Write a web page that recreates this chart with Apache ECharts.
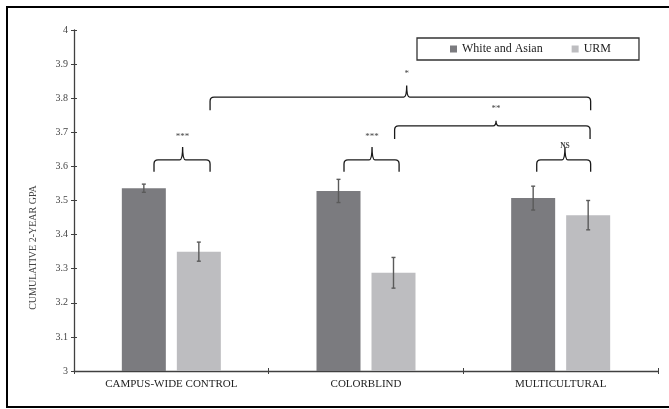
<!DOCTYPE html>
<html>
<head>
<meta charset="utf-8">
<script src="https://cdn.jsdelivr.net/npm/echarts@6/dist/echarts.min.js"></script>
<style>html,body{margin:0;padding:0;background:#fff}#c{width:669px;height:409px}</style>
</head>
<body>
<div id="c"></div>
<script>
// ---- data ----
var categories = ['CAMPUS-WIDE CONTROL', 'COLORBLIND', 'MULTICULTURAL'];
var seriesNames = ['White and Asian', 'URM'];
var whiteAsian = [3.536, 3.528, 3.507];
var whiteAsianErr = [0.012, 0.034, 0.035];
var urm = [3.350, 3.288, 3.457];
var urmErr = [0.028, 0.045, 0.043];
var yTicks = { min: 3, max: 4, interval: 0.1 };
var yTitle = 'CUMULATIVE 2-YEAR GPA';
// significance brackets, in category-index units (x) and GPA units (y)
var bracketLeft  = [-0.089, 0.887, 1.877, 1.147, 0.199];
var bracketRight = [ 0.199, 1.170, 2.154, 2.151, 2.154];
var bracketMid   = [ 0.058, 1.031, 2.022, 1.668, 1.209];
var bracketLeg   = [3.584, 3.584, 3.584, 3.680, 3.765];
var bracketBar   = [3.619, 3.619, 3.619, 3.719, 3.803];
var bracketPeak  = [3.657, 3.657, 3.657, 3.734, 3.837];
var bracketText  = ['***', '***', 'NS', '**', '*'];
var bracketTextY = [3.686, 3.686, 3.660, 3.768, 3.871];

var FONT = '"Liberation Serif", "Times New Roman", serif';
var DARK = '#7b7b7f', LIGHT = '#bdbdc0';
var BAR_W = 44, BAR_GAP = 11;

var chart = echarts.init(document.getElementById('c'));

function errItem(offset) {
  return function (params, api) {
    var i = api.value(0), v = api.value(1), e = api.value(2);
    var top = api.coord([i, v + e]);
    var bot = api.coord([i, v - e]);
    var x = top[0] + offset;
    var style = { stroke: '#5a5a5a', lineWidth: 1.4 };
    return {
      type: 'group',
      children: [
        { type: 'line', shape: { x1: x, y1: top[1], x2: x, y2: bot[1] }, style: style },
        { type: 'line', shape: { x1: x - 2, y1: top[1], x2: x + 2, y2: top[1] }, style: style },
        { type: 'line', shape: { x1: x - 2, y1: bot[1], x2: x + 2, y2: bot[1] }, style: style }
      ]
    };
  };
}

var bracketData = bracketLeft.map(function (l, k) {
  return [l, bracketRight[k], bracketMid[k], bracketLeg[k], bracketBar[k], bracketPeak[k], bracketTextY[k], k];
});

function bracketItem(params, api) {
  var L = api.coord([api.value(0), api.value(3)]);
  var R = api.coord([api.value(1), api.value(3)]);
  var H = api.coord([api.value(2), api.value(4)]);
  var P = api.coord([api.value(2), api.value(5)]);
  var T = api.coord([api.value(2), api.value(6)]);
  var k = api.value(7);
  var r = 4, r2 = 3;
  var h = H[1], m = H[0];
  var d = 'M' + L[0] + ',' + L[1] +
    ' L' + L[0] + ',' + (h + r) +
    ' Q' + L[0] + ',' + h + ' ' + (L[0] + r) + ',' + h +
    ' L' + (m - r2) + ',' + h +
    ' Q' + m + ',' + h + ' ' + m + ',' + P[1] +
    ' Q' + m + ',' + h + ' ' + (m + r2) + ',' + h +
    ' L' + (R[0] - r) + ',' + h +
    ' Q' + R[0] + ',' + h + ' ' + R[0] + ',' + (h + r) +
    ' L' + R[0] + ',' + R[1];
  var txt = bracketText[k];
  var isNS = txt === 'NS';
  return {
    type: 'group',
    children: [
      { type: 'path', shape: { pathData: d }, style: { stroke: '#1a1a1a', lineWidth: 1.3, fill: null } },
      { type: 'text', x: T[0], y: T[1], style: {
          text: txt, fill: '#444', align: 'center', verticalAlign: 'middle',
          fontFamily: FONT, fontSize: isNS ? 7.5 : 9, fontWeight: isNS ? 'bold' : 'normal' } }
    ]
  };
}

var option = {
  animation: false,
  backgroundColor: '#fff',
  textStyle: { fontFamily: FONT },
  grid: { left: 74, right: 11, top: 30, bottom: 38, containLabel: false },
  legend: {
    data: seriesNames,
    left: 417, top: 38,
    icon: 'rect', itemWidth: 7, itemHeight: 7, itemGap: 29,
    padding: [5, 28, 5, 33],
    borderColor: '#333', borderWidth: 1.3,
    textStyle: { fontFamily: FONT, fontSize: 12, color: '#222' }
  },
  xAxis: [
    {
      type: 'category', data: categories,
      axisLine: { onZero: false, lineStyle: { color: '#404040', width: 1.3 } },
      axisTick: { show: true, length: 3, interval: 0, lineStyle: { color: '#404040' } },
      axisLabel: { color: '#222', fontSize: 11, fontFamily: FONT, margin: 8, interval: 0 },
      splitLine: { show: false }
    },
    {
      type: 'value', min: -0.5, max: 2.5, show: false,
      axisLine: { onZero: false }
    },
    {
      type: 'category', data: categories, position: 'bottom',
      axisLine: { show: false, onZero: false },
      axisTick: { show: true, inside: true, length: 3, interval: 0, lineStyle: { color: '#404040' } },
      axisLabel: { show: false },
      splitLine: { show: false }
    }
  ],
  yAxis: [
    {
      type: 'value', min: yTicks.min, max: yTicks.max, interval: yTicks.interval, position: 'left',
      axisLine: { show: true, onZero: false, lineStyle: { color: '#404040', width: 1.3 } },
      axisTick: { show: true, length: 3, lineStyle: { color: '#404040' } },
      axisLabel: { color: '#444', fontSize: 10, fontFamily: FONT, margin: 6 },
      splitLine: { show: false }
    },
    {
      type: 'value', min: yTicks.min, max: yTicks.max, interval: yTicks.interval, position: 'left',
      axisLine: { show: false, onZero: false },
      axisTick: { show: true, inside: true, length: 3, lineStyle: { color: '#404040' } },
      axisLabel: { show: false },
      splitLine: { show: false }
    }
  ],
  graphic: [
    { type: 'rect', silent: true, z: 100, shape: { x: 7, y: 7, width: 700, height: 400 },
      style: { fill: null, stroke: '#000', lineWidth: 2 } },
    { type: 'text', silent: true, x: 33, y: 247.5, rotation: Math.PI / 2,
      style: { text: yTitle, fill: '#444', fontSize: 10, fontFamily: FONT, align: 'center', verticalAlign: 'middle' } }
  ],
  series: [
    {
      name: seriesNames[0], type: 'bar', data: whiteAsian, barWidth: BAR_W, barGap: (BAR_GAP / BAR_W * 100) + '%',
      itemStyle: { color: DARK }
    },
    {
      name: seriesNames[1], type: 'bar', data: urm, barWidth: BAR_W,
      itemStyle: { color: LIGHT }
    },
    {
      type: 'custom', name: 'errW', xAxisIndex: 0, yAxisIndex: 0, z: 5,
      data: whiteAsian.map(function (v, i) { return [i, v, whiteAsianErr[i]]; }),
      renderItem: errItem(-(BAR_W + BAR_GAP) / 2)
    },
    {
      type: 'custom', name: 'errU', xAxisIndex: 0, yAxisIndex: 0, z: 5,
      data: urm.map(function (v, i) { return [i, v, urmErr[i]]; }),
      renderItem: errItem((BAR_W + BAR_GAP) / 2)
    },
    {
      type: 'custom', name: 'brackets', xAxisIndex: 1, yAxisIndex: 0, z: 6,
      data: bracketData, renderItem: bracketItem
    }
  ]
};
chart.setOption(option);
</script>
</body>
</html>
